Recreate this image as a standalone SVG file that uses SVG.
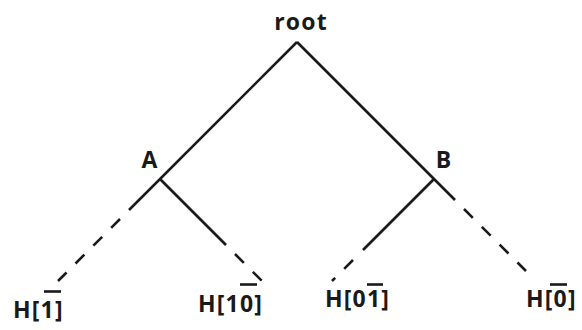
<svg xmlns="http://www.w3.org/2000/svg" width="582" height="330" viewBox="0 0 582 330">
<style>
.e{fill:none;stroke:#1a1a1a;stroke-width:2.6;stroke-linecap:butt}
.d{stroke-dasharray:12.5 12.7}
.t{font-family:"Open Sans",sans-serif;font-weight:bold;font-size:23px;letter-spacing:1.2px;fill:#1a1a1a}
.o{stroke:#1a1a1a;stroke-width:2.6}
</style>
<rect width="582" height="330" fill="#fff"/>
<g id="connectors">
<path class="e" d="M297,42 L129,210"/>
<path class="e d" d="M120,219 L58,281"/>
<path class="e" d="M297,42 L455,200"/>
<path class="e d" d="M464,209 L526,271"/>
<path class="e" d="M160,179 L226,245"/>
<path class="e d" d="M235,254 L262,281"/>
<path class="e" d="M434,179 L363,250"/>
<path class="e d" d="M353,260 L332,281"/>
</g>
<g id="root"><text class="t" x="301" y="30" text-anchor="middle">root</text></g>
<g id="A"><text class="t" x="150" y="168" text-anchor="middle">A</text></g>
<g id="B"><text class="t" x="444" y="168" text-anchor="middle">B</text></g>
<g id="H1"><text class="t" x="13" y="318">H[1]</text><line class="o" x1="44" y1="291.5" x2="61" y2="291.5"/></g>
<g id="H10"><text class="t" x="198" y="312">H[10]</text><line class="o" x1="240" y1="284.5" x2="257" y2="284.5"/></g>
<g id="H01"><text class="t" x="325" y="307">H[01]</text><line class="o" x1="367" y1="284.5" x2="383" y2="284.5"/></g>
<g id="H0"><text class="t" x="526" y="307">H[0]</text><line class="o" x1="550" y1="284.5" x2="567" y2="284.5"/></g>
</svg>
